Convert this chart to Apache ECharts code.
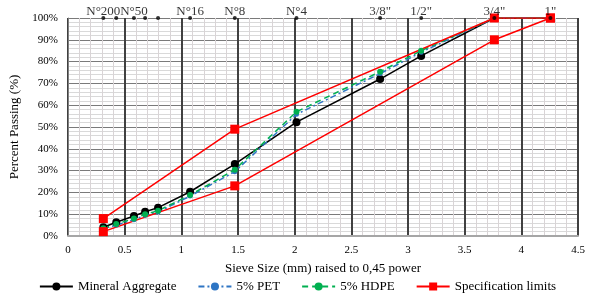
<!DOCTYPE html>
<html>
<head>
<meta charset="utf-8">
<script src="https://cdn.jsdelivr.net/npm/echarts@6/dist/echarts.min.js"></script>
<style>
  html, body { margin: 0; padding: 0; background: #fff; }
  #chart { width: 595px; height: 306px; }
</style>
</head>
<body>
<div id="chart"></div>
<script>
  // sieve openings in mm, x axis is mm^0.45
  const sieveMm = [0.075, 0.15, 0.3, 0.425, 0.6, 1.18, 2.36, 4.75, 9.5, 12.5, 19, 25]
  const sieveNames = ['N°200', '', 'N°50', '', '', 'N°16', 'N°8', 'N°4', '3/8"', '1/2"', '3/4"', '1"']

  const mineral = [4, 6.3, 9.2, 11.1, 13, 20.3, 33, 52.2, 72, 82.6, 100, 100]
  const pet = [3.3, 5, 7.5, 9.5, 11, 18.3, 29.5, 55.8, 74.5, 84.3, 100, 100]
  const hdpe = [3.5, 5.5, 8, 10, 11.6, 18.8, 30.4, 57, 75.4, 85, 100, 100]

  // specification control points (mm, lower, upper)
  const specMm = [0.075, 2.36, 19, 25]
  const specLower = [2, 23, 90, 100]
  const specUpper = [8, 49, 100, 100]

  const px = mm => Math.pow(mm, 0.45)
  const pairs = (mm, vals) => mm.map((m, i) => [px(m), vals[i]])

  const font = 'Liberation Serif'
  let myChart = echarts.init(document.getElementById('chart'))

  let option = {
    animation: false,
    textStyle: { fontFamily: font },
    grid: { left: 67, right: 17, top: 18, bottom: 70 },
    legend: {
      data: ['Mineral Aggregate', '5% PET', '5% HDPE', 'Specification limits'],
      bottom: 8,
      left: 'center',
      itemWidth: 33,
      itemHeight: 10,
      itemGap: 21,
      textStyle: { fontFamily: font, fontSize: 13, color: '#000' }
    },
    xAxis: {
      type: 'value',
      min: 0,
      max: 4.5,
      interval: 0.5,
      name: 'Sieve Size (mm) raised to 0,45 power',
      nameLocation: 'middle',
      nameGap: 26,
      nameTextStyle: { fontFamily: font, fontSize: 13, color: '#000' },
      axisLine: { onZero: false, lineStyle: { color: '#a6a6a6', width: 2 } },
      axisTick: { show: false },
      axisLabel: { fontFamily: font, fontSize: 11, color: '#000', margin: 9 },
      splitLine: { show: true, lineStyle: { color: '#404040', width: 2 } },
      minorTick: { show: false, splitNumber: 5 },
      minorSplitLine: { show: true, lineStyle: { color: '#d9d4d6', width: 1 } }
    },
    yAxis: {
      type: 'value',
      min: 0,
      max: 100,
      interval: 10,
      name: 'Percent Passing (%)',
      nameLocation: 'middle',
      nameGap: 47,
      nameTextStyle: { fontFamily: font, fontSize: 13, color: '#000' },
      axisLine: { show: true, lineStyle: { color: '#808080', width: 1 } },
      axisTick: { show: false },
      axisLabel: { fontFamily: font, fontSize: 11, color: '#000', margin: 10, formatter: '{value}%' },
      splitLine: { show: true, lineStyle: { color: '#7a7a7a', width: 1 } },
      minorTick: { show: false, splitNumber: 5 },
      minorSplitLine: { show: true, lineStyle: { color: '#d9d9d9', width: 1 } }
    },
    series: [
      {
        name: 'sieves',
        type: 'scatter',
        data: sieveMm.map((m, i) => ({ value: [px(m), 100], name: sieveNames[i] })),
        symbolSize: 4,
        itemStyle: { color: '#000' },
        label: {
          show: true,
          position: 'top',
          distance: -2,
          formatter: p => p.name,
          fontFamily: font,
          fontSize: 13,
          color: '#000'
        },
        z: 10,
        silent: true
      },
      {
        name: 'Mineral Aggregate',
        type: 'line',
        data: pairs(sieveMm, mineral),
        symbol: 'circle',
        symbolSize: 8,
        itemStyle: { color: '#000' },
        lineStyle: { color: '#000', width: 1.5 }
      },
      {
        name: '5% PET',
        type: 'line',
        data: pairs(sieveMm, pet),
        symbol: 'circle',
        symbolSize: 5,
        itemStyle: { color: '#2e75c4' },
        lineStyle: { color: '#2e75c4', width: 1.5, type: [6, 3, 2, 3] }
      },
      {
        name: '5% HDPE',
        type: 'line',
        data: pairs(sieveMm, hdpe),
        symbol: 'circle',
        symbolSize: 6,
        itemStyle: { color: '#00b050' },
        lineStyle: { color: '#00b050', width: 1.5, type: [6, 4] }
      },
      {
        name: 'Specification limits',
        type: 'line',
        data: pairs(specMm, specUpper),
        symbol: 'rect',
        symbolSize: 9,
        itemStyle: { color: '#ff0000' },
        lineStyle: { color: '#ff0000', width: 1.5 }
      },
      {
        name: 'Specification limits',
        type: 'line',
        data: pairs(specMm, specLower),
        symbol: 'rect',
        symbolSize: 9,
        itemStyle: { color: '#ff0000' },
        lineStyle: { color: '#ff0000', width: 1.5 }
      }
    ]
  }
  myChart.setOption(option)
</script>
</body>
</html>
